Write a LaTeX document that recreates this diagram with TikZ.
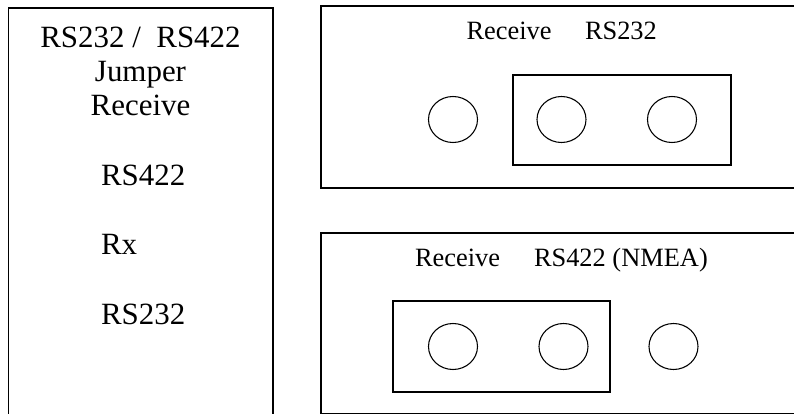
\documentclass[tikz,border=0pt]{standalone}
\usepackage{fontspec}
\setmainfont{Liberation Serif}
\usepackage{tikz}
\usetikzlibrary{positioning,shapes.geometric}
\tikzset{
  frame/.style    = {draw=black, line width=0.95pt},
  header/.style   = {draw=black, line width=0.95pt},
  pin/.style      = {ellipse, draw=black, line width=0.8pt, minimum width=36.75pt, minimum height=34.5pt, inner sep=0pt},
  biglab/.style   = {font=\fontsize{23.2}{25.5}\selectfont, inner sep=0pt, outer sep=0pt},
  lab/.style      = {font=\fontsize{19.8}{22}\selectfont, anchor=base west, inner sep=0pt, outer sep=0pt},
}

\begin{document}
\begin{tikzpicture}[x=0.75pt,y=-0.75pt]
\path[use as bounding box] (0,0) rectangle (794,414);
\clip (0,0) rectangle (794,414);

% ---- jumper legend ------------------------------------------------------
\draw[frame] (8.5,8) rectangle (273,420);
\node[biglab, anchor=base] (title) at (140.5,47) {RS232 / \ RS422};
\node[biglab, anchor=base] (jumper) at (140.5,81) {Jumper};
\node[biglab, anchor=base] (recv) at (140.5,115) {Receive};
\node[biglab, anchor=base west] (set422) at (101,185) {RS422};
\node[biglab, anchor=base west] (rx) at (101,254) {Rx};
\node[biglab, anchor=base west] (set232) at (101,324) {RS232};

% ---- receive RS232 ------------------------------------------------------
\draw[frame] (321,6) rectangle (800,188);
\node[lab] (recvA) at (466.5,40) {Receive};
\node[lab] (modeA) at (585,40) {RS232};
\draw[header] (513,75) rectangle (731,165);
\node[pin] (pinA1) at (453,119.5) {};
\node[pin] (pinA2) at (561.5,119.5) {};
\node[pin] (pinA3) at (672,119.5) {};

% ---- receive RS422 ------------------------------------------------------
\draw[frame] (321,233) rectangle (800,413.5);
\node[lab] (recvB) at (415,266) {Receive};
\node[lab] (modeB) at (534,266) {RS422 (NMEA)};
\draw[header] (393,301) rectangle (610,392);
\node[pin] (pinB1) at (453,346.5) {};
\node[pin] (pinB2) at (563.5,346.5) {};
\node[pin] (pinB3) at (673.5,346.5) {};

\end{tikzpicture}
\end{document}
